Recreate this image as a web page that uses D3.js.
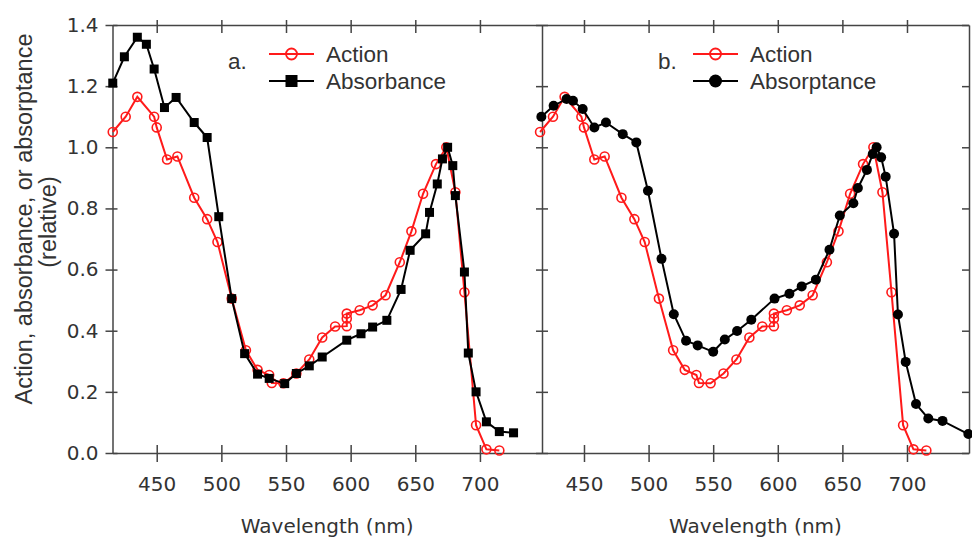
<!DOCTYPE html>
<html lang="en">
<head>
    <meta charset="UTF-8">
    <title>Action and absorption spectra</title>
    <style>
        body { margin: 0; background: #fff; overflow: hidden; }
        svg { display: block; }
        .tick text { font-family: "DejaVu Sans", sans-serif; font-size: 20px; fill: #333; }
        .axis path, .axis line { stroke: #444; stroke-width: 1.5; }
    </style>
</head>
<body>
<svg id="chart" width="972" height="537"></svg>

<script src="https://cdnjs.cloudflare.com/ajax/libs/d3/7.8.5/d3.min.js"></script>
<script>
    // action spectrum (same measurements in both panels)
    const actionNm  = [416, 426, 435, 448, 450, 458, 466, 479, 489, 497, 508, 519, 528, 537, 539, 548, 558, 568, 578, 588, 597, 597, 597, 607, 617, 627, 638, 647, 656, 666, 674, 681, 688, 697, 705, 715];
    const actionVal = [1.05, 1.10, 1.165, 1.10, 1.065, 0.96, 0.97, 0.835, 0.765, 0.69, 0.505, 0.336, 0.272, 0.255, 0.229, 0.228, 0.26, 0.306, 0.378, 0.414, 0.415, 0.44, 0.456, 0.467, 0.483, 0.516, 0.624, 0.725, 0.848, 0.945, 1.0, 0.853, 0.526, 0.091, 0.012, 0.008];

    // panel a: absorbance
    const absorbanceNm  = [416, 425, 435, 442, 448, 456, 465, 479, 489, 498, 508, 518, 528, 537, 549, 558, 568, 578, 597, 608, 617, 628, 639, 646, 658, 661, 667, 671, 675, 679, 681, 688, 691, 697, 705, 715, 726];
    const absorbanceVal = [1.21, 1.296, 1.36, 1.337, 1.256, 1.13, 1.163, 1.081, 1.032, 0.773, 0.505, 0.325, 0.258, 0.244, 0.227, 0.26, 0.285, 0.314, 0.369, 0.39, 0.412, 0.434, 0.535, 0.663, 0.717, 0.787, 0.88, 0.962, 1.0, 0.94, 0.842, 0.592, 0.327, 0.20, 0.102, 0.07, 0.066];

    // panel b: absorptance
    const absorptanceNm  = [417, 426.5, 436.5, 441.5, 449, 458, 467, 480, 490.5, 499.5, 510, 519.5, 529, 538, 550, 559, 568.5, 579.5, 597.5, 609, 618.5, 629.5, 640, 648, 658.5, 662, 669, 673.5, 676.5, 680, 683.5, 690, 693, 699, 707, 716.5, 727.5, 747.5];
    const absorptanceVal = [1.10, 1.136, 1.158, 1.152, 1.125, 1.065, 1.081, 1.043, 1.016, 0.858, 0.635, 0.454, 0.367, 0.352, 0.331, 0.371, 0.399, 0.436, 0.505, 0.521, 0.545, 0.567, 0.665, 0.777, 0.817, 0.867, 0.926, 0.978, 1.0, 0.967, 0.904, 0.717, 0.453, 0.298, 0.16, 0.113, 0.105, 0.062];

    const xTicks = [450, 500, 550, 600, 650, 700];
    const yTicks = [0, 0.2, 0.4, 0.6, 0.8, 1.0, 1.2, 1.4];

    const svg = d3.select("#chart");
    const yTop = 25, yBottom = 453;
    const y = d3.scaleLinear().domain([0, 1.4]).range([yBottom, yTop]);

    const panels = [
        { x0: 112.5, x1: 542, domain: [415.8, 748], tag: "a.", name: "Absorbance", nm: absorbanceNm, val: absorbanceVal, marker: "square" },
        { x0: 542, x1: 969, domain: [417.5, 748], tag: "b.", name: "Absorptance", nm: absorptanceNm, val: absorptanceVal, marker: "circle" }
    ];

    function drawMarkers(g, pts, x, kind) {
        if (kind === "open") {
            g.selectAll("circle.m").data(pts).join("circle")
                .attr("class", "m").attr("cx", d => x(d[0])).attr("cy", d => y(d[1])).attr("r", 4.5)
                .attr("fill", "none").attr("stroke", "#ff1a1a").attr("stroke-width", 1.6);
        } else if (kind === "square") {
            g.selectAll("rect.m").data(pts).join("rect")
                .attr("class", "m").attr("x", d => x(d[0]) - 4.5).attr("y", d => y(d[1]) - 4.5)
                .attr("width", 9).attr("height", 9).attr("fill", "#000");
        } else {
            g.selectAll("circle.m").data(pts).join("circle")
                .attr("class", "m").attr("cx", d => x(d[0])).attr("cy", d => y(d[1])).attr("r", 5)
                .attr("fill", "#000");
        }
    }

    panels.forEach((p, i) => {
        const x = d3.scaleLinear().domain(p.domain).range([p.x0, p.x1]);
        const line = d3.line().x(d => x(d[0])).y(d => y(d[1]));

        // axes (frame with crossing ticks)
        const gb = svg.append("g").attr("class", "axis").attr("transform", `translate(0,${yBottom})`)
            .call(d3.axisBottom(x).tickValues(xTicks).tickSize(9).tickSizeOuter(0));
        gb.selectAll(".tick line").attr("y1", -8);
        gb.selectAll(".tick text").attr("y", 24).attr("dy", "0.71em");

        const gt = svg.append("g").attr("class", "axis").attr("transform", `translate(0,${yTop})`)
            .call(d3.axisTop(x).tickValues(xTicks).tickFormat("").tickSize(5).tickSizeOuter(0));
        gt.selectAll(".tick line").attr("y1", 8);

        if (i === 0) {
            const gl = svg.append("g").attr("class", "axis").attr("transform", `translate(${p.x0},0)`)
                .call(d3.axisLeft(y).tickValues(yTicks).tickFormat(d3.format(".1f")).tickSize(7).tickSizeOuter(0));
            gl.selectAll(".tick line").attr("x1", 5);
            gl.selectAll(".tick text").attr("x", -14);

            const gm = svg.append("g").attr("class", "axis").attr("transform", `translate(${p.x1},0)`)
                .call(d3.axisLeft(y).tickValues(yTicks).tickFormat("").tickSize(6).tickSizeOuter(0));
            gm.selectAll(".tick line").attr("x1", 6);
        } else {
            svg.append("g").attr("class", "axis").attr("transform", `translate(${p.x1},0)`)
                .call(d3.axisLeft(y).tickValues(yTicks).tickFormat("").tickSize(7).tickSizeOuter(0));
        }

        // x axis title
        svg.append("text")
            .attr("x", (p.x0 + p.x1) / 2).attr("y", 533)
            .attr("text-anchor", "middle")
            .style("font-family", "DejaVu Sans, sans-serif").style("font-size", "20px").style("fill", "#333")
            .text("Wavelength (nm)");

        // series
        const act = actionNm.map((d, k) => [d, actionVal[k]]);
        const other = p.nm.map((d, k) => [d, p.val[k]]);

        const ga = svg.append("g");
        ga.append("path").datum(act).attr("d", line)
            .attr("fill", "none").attr("stroke", "#ff1a1a").attr("stroke-width", 2);
        drawMarkers(ga, act, x, "open");

        const go = svg.append("g");
        go.append("path").datum(other).attr("d", line)
            .attr("fill", "none").attr("stroke", "#000").attr("stroke-width", 2);
        drawMarkers(go, other, x, p.marker);

        // legend
        const lx = i === 0 ? 269 : 693;
        const lg = svg.append("g").style("font-family", "Liberation Sans, Arial, sans-serif")
            .style("font-size", "22.5px").style("fill", "#333");
        lg.append("text").attr("x", i === 0 ? 228 : 658).attr("y", 69).text(p.tag);

        const rows = [
            { label: "Action", color: "#ff1a1a", kind: "open", yy: 54 },
            { label: p.name, color: "#000", kind: p.marker, yy: 81 }
        ];
        rows.forEach(r => {
            lg.append("line").attr("x1", lx).attr("x2", lx + 45).attr("y1", r.yy).attr("y2", r.yy)
                .attr("stroke", r.color).attr("stroke-width", 2);
            const cx = lx + 22.5;
            if (r.kind === "open") {
                lg.append("circle").attr("cx", cx).attr("cy", r.yy).attr("r", 5.5)
                    .attr("fill", "none").attr("stroke", r.color).attr("stroke-width", 1.8);
            } else if (r.kind === "square") {
                lg.append("rect").attr("x", cx - 6).attr("y", r.yy - 6).attr("width", 12).attr("height", 12).attr("fill", "#000");
            } else {
                lg.append("circle").attr("cx", cx).attr("cy", r.yy).attr("r", 6.5).attr("fill", "#000");
            }
            lg.append("text").attr("x", lx + 57).attr("y", r.yy + 8).text(r.label);
        });
    });

    // y axis title (two lines)
    const yt = svg.append("g").style("font-family", "Liberation Sans, Arial, sans-serif")
        .style("font-size", "23.5px").style("fill", "#333").attr("text-anchor", "middle");
    yt.append("text").attr("transform", "translate(32,219) rotate(-90)").text("Action, absorbance, or absorptance");
    yt.append("text").attr("transform", "translate(56,222) rotate(-90)").text("(relative)");
</script>
</body>
</html>
